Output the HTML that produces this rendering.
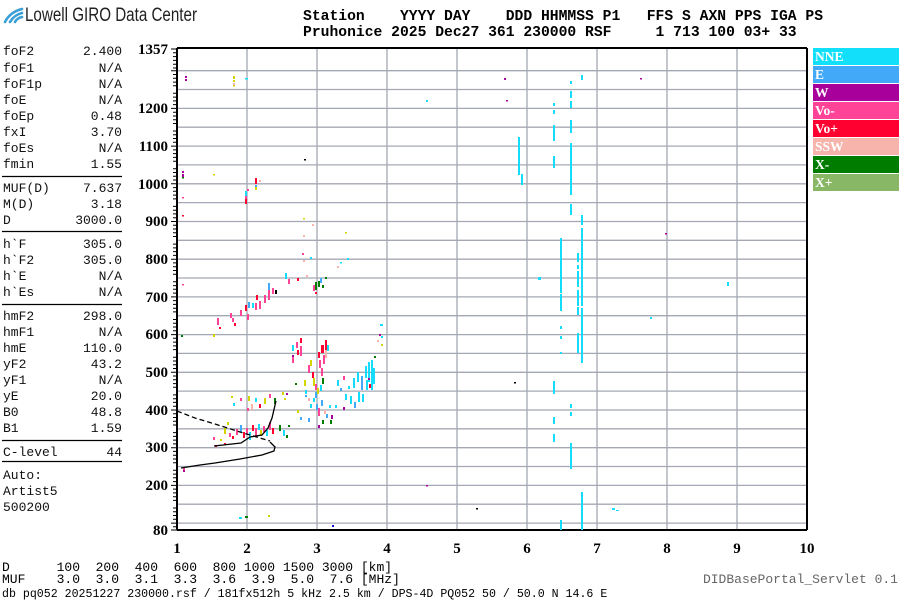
<!DOCTYPE html>
<html><head><meta charset="utf-8"><style>
body{margin:0;background:#fff;width:900px;height:600px;overflow:hidden}
svg{display:block}
.m{font-family:"Liberation Mono","DejaVu Sans Mono",monospace}
</style></head><body>
<svg width="900" height="600" viewBox="0 0 900 600" xmlns="http://www.w3.org/2000/svg">
<!-- logo -->
<g fill="none" stroke="#3a9fd6" stroke-width="2.6" stroke-linecap="round">
<path d="M5 22 Q10 12 22 9"/><path d="M10 22 Q14 15 22 13"/><path d="M15 22 Q17 18 22 17"/>
</g>
<text x="25" y="21" font-family="Liberation Sans Narrow,Liberation Sans,sans-serif" font-size="19" fill="#222" textLength="172" lengthAdjust="spacingAndGlyphs">Lowell GIRO Data Center</text>
<text class="m" x="303" y="20" font-size="14.7" font-weight="bold" xml:space="preserve">Station    YYYY DAY    DDD HHMMSS P1   FFS S AXN PPS IGA PS</text>
<text class="m" x="303" y="36" font-size="14.7" font-weight="bold" xml:space="preserve">Pruhonice 2025 Dec27 361 230000 RSF     1 713 100 03+ 33</text>
<!-- left panel -->
<g class="m" font-size="13" fill="#111">
<g text-anchor="start">
<text x="3" y="55">foF2</text><text x="3" y="72">foF1</text><text x="3" y="88">foF1p</text><text x="3" y="104">foE</text><text x="3" y="120">foEp</text><text x="3" y="136">fxI</text><text x="3" y="152">foEs</text><text x="3" y="168">fmin</text>
<text x="3" y="192">MUF(D)</text><text x="3" y="208">M(D)</text><text x="3" y="224">D</text>
<text x="3" y="248">h`F</text><text x="3" y="264">h`F2</text><text x="3" y="280">h`E</text><text x="3" y="296">h`Es</text>
<text x="3" y="320">hmF2</text><text x="3" y="336">hmF1</text><text x="3" y="352">hmE</text><text x="3" y="368">yF2</text><text x="3" y="384">yF1</text><text x="3" y="400">yE</text><text x="3" y="416">B0</text><text x="3" y="432">B1</text>
<text x="3" y="456">C-level</text>
<text x="3" y="479">Auto:</text><text x="3" y="495">Artist5</text><text x="3" y="511">500200</text>
</g>
<g text-anchor="end">
<text x="122" y="55">2.400</text><text x="122" y="72">N/A</text><text x="122" y="88">N/A</text><text x="122" y="104">N/A</text><text x="122" y="120">0.48</text><text x="122" y="136">3.70</text><text x="122" y="152">N/A</text><text x="122" y="168">1.55</text>
<text x="122" y="192">7.637</text><text x="122" y="208">3.18</text><text x="122" y="224">3000.0</text>
<text x="122" y="248">305.0</text><text x="122" y="264">305.0</text><text x="122" y="280">N/A</text><text x="122" y="296">N/A</text>
<text x="122" y="320">298.0</text><text x="122" y="336">N/A</text><text x="122" y="352">110.0</text><text x="122" y="368">43.2</text><text x="122" y="384">N/A</text><text x="122" y="400">20.0</text><text x="122" y="416">48.8</text><text x="122" y="432">1.59</text>
<text x="122" y="456">44</text>
</g>
</g>
<g stroke="#000" stroke-width="1.2">
<line x1="2" y1="176.5" x2="122" y2="176.5"/><line x1="2" y1="231.5" x2="122" y2="231.5"/><line x1="2" y1="304.5" x2="122" y2="304.5"/><line x1="2" y1="440.5" x2="122" y2="440.5"/><line x1="2" y1="461.5" x2="122" y2="461.5"/>
</g>
<!-- grid -->
<g stroke="#a4a8b4" stroke-width="1.3">
<line x1="177" y1="70.7" x2="807" y2="70.7"/><line x1="177" y1="89.5" x2="807" y2="89.5"/><line x1="177" y1="108.4" x2="807" y2="108.4"/><line x1="177" y1="127.2" x2="807" y2="127.2"/><line x1="177" y1="146.1" x2="807" y2="146.1"/><line x1="177" y1="164.9" x2="807" y2="164.9"/><line x1="177" y1="183.8" x2="807" y2="183.8"/><line x1="177" y1="202.6" x2="807" y2="202.6"/><line x1="177" y1="221.5" x2="807" y2="221.5"/><line x1="177" y1="240.3" x2="807" y2="240.3"/><line x1="177" y1="259.2" x2="807" y2="259.2"/><line x1="177" y1="278" x2="807" y2="278"/><line x1="177" y1="296.9" x2="807" y2="296.9"/><line x1="177" y1="315.7" x2="807" y2="315.7"/><line x1="177" y1="334.6" x2="807" y2="334.6"/><line x1="177" y1="353.4" x2="807" y2="353.4"/><line x1="177" y1="372.3" x2="807" y2="372.3"/><line x1="177" y1="391.1" x2="807" y2="391.1"/><line x1="177" y1="410" x2="807" y2="410"/><line x1="177" y1="428.8" x2="807" y2="428.8"/><line x1="177" y1="447.7" x2="807" y2="447.7"/><line x1="177" y1="466.5" x2="807" y2="466.5"/><line x1="177" y1="485.4" x2="807" y2="485.4"/><line x1="177" y1="504.2" x2="807" y2="504.2"/><line x1="177" y1="523.1" x2="807" y2="523.1"/>
<line x1="247" y1="48" x2="247" y2="530"/><line x1="317" y1="48" x2="317" y2="530"/><line x1="387" y1="48" x2="387" y2="530"/><line x1="457" y1="48" x2="457" y2="530"/><line x1="527" y1="48" x2="527" y2="530"/><line x1="597" y1="48" x2="597" y2="530"/><line x1="667" y1="48" x2="667" y2="530"/><line x1="737" y1="48" x2="737" y2="530"/>
</g>
<!-- frame -->
<g stroke="#000">
<line x1="177" y1="48" x2="807" y2="48" stroke-width="2"/>
<line x1="177" y1="530" x2="807" y2="530" stroke-width="2"/>
<line x1="177" y1="48" x2="177" y2="530" stroke-width="2"/>
<line x1="807" y1="48" x2="807" y2="530" stroke-width="2"/>
</g>
<!-- left ticks -->
<g stroke="#000" stroke-width="1">
<path d="M171 49h6M171 70.7h6M171 108.4h6M171 146.1h6M171 183.8h6M171 221.5h6M171 259.2h6M171 296.9h6M171 334.6h6M171 372.3h6M171 410h6M171 447.7h6M171 485.4h6M171 523.1h6M171 530h6"/>
<path d="M173 52.8h4M173 56.6h4M173 60.4h4M173 64.2h4M173 68h4M173 74.5h4M173 78.3h4M173 82.1h4M173 85.8h4M173 93.3h4M173 97.1h4M173 100.9h4M173 104.6h4M173 112.2h4M173 116h4M173 119.7h4M173 123.5h4M173 131h4M173 134.8h4M173 138.5h4M173 142.3h4M173 149.9h4M173 153.6h4M173 157.4h4M173 161.2h4M173 168.7h4M173 172.5h4M173 176.2h4M173 180h4M173 187.6h4M173 191.3h4M173 195.1h4M173 198.9h4M173 206.4h4M173 210.2h4M173 213.9h4M173 217.7h4M173 225.2h4M173 229h4M173 232.8h4M173 236.5h4M173 244.1h4M173 247.9h4M173 251.6h4M173 255.4h4M173 262.9h4M173 266.7h4M173 270.5h4M173 274.2h4M173 281.8h4M173 285.6h4M173 289.3h4M173 293.1h4M173 300.6h4M173 304.4h4M173 308.2h4M173 311.9h4M173 319.5h4M173 323.3h4M173 327h4M173 330.8h4M173 338.3h4M173 342.1h4M173 345.9h4M173 349.6h4M173 357.2h4M173 361h4M173 364.7h4M173 368.5h4M173 376h4M173 379.8h4M173 383.6h4M173 387.3h4M173 394.9h4M173 398.7h4M173 402.4h4M173 406.2h4M173 413.7h4M173 417.5h4M173 421.3h4M173 425h4M173 432.6h4M173 436.4h4M173 440.1h4M173 443.9h4M173 451.4h4M173 455.2h4M173 459h4M173 462.7h4M173 470.3h4M173 474.1h4M173 477.8h4M173 481.6h4M173 489.1h4M173 492.9h4M173 496.7h4M173 500.4h4M173 508h4M173 511.8h4M173 515.5h4M173 519.3h4M173 526.8h4"/>
</g>
<g font-family="Liberation Serif,serif" font-weight="bold" font-size="15" text-anchor="end" fill="#000">
<text x="168" y="54">1357</text><text x="168" y="113">1200</text><text x="168" y="151">1100</text><text x="168" y="189">1000</text><text x="168" y="226">900</text><text x="168" y="264">800</text><text x="168" y="302">700</text><text x="168" y="339">600</text><text x="168" y="377">500</text><text x="168" y="415">400</text><text x="168" y="452">300</text><text x="168" y="490">200</text><text x="168" y="535">80</text>
</g>
<g font-family="Liberation Serif,serif" font-weight="bold" font-size="15" text-anchor="middle" fill="#000">
<text x="177" y="553">1</text><text x="247" y="553">2</text><text x="317" y="553">3</text><text x="387" y="553">4</text><text x="457" y="553">5</text><text x="527" y="553">6</text><text x="597" y="553">7</text><text x="667" y="553">8</text><text x="737" y="553">9</text><text x="807" y="553">10</text>
</g>
<!-- bottom text -->
<text class="m" x="2" y="571" font-size="13" xml:space="preserve">D      100  200  400  600  800 1000 1500 3000 [km]</text>
<text class="m" x="2" y="583" font-size="13" xml:space="preserve">MUF    3.0  3.0  3.1  3.3  3.6  3.9  5.0  7.6 [MHz]</text>
<text class="m" x="2" y="597" font-size="11.6" xml:space="preserve">db pq052 20251227 230000.rsf / 181fx512h 5 kHz 2.5 km / DPS-4D PQ052 50 / 50.0 N 14.6 E</text>
<text class="m" x="898" y="583" font-size="13" fill="#666" text-anchor="end">DIDBasePortal_Servlet 0.1</text>
<!-- legend -->
<g font-family="Liberation Serif,serif" font-weight="bold" font-size="13.5" fill="#fff">
<rect x="813" y="48" width="86" height="17" fill="#12e0fb"/><text x="815" y="61">NNE</text>
<rect x="813" y="66" width="86" height="17" fill="#42a8f8"/><text x="815" y="79">E</text>
<rect x="813" y="84" width="86" height="17" fill="#a8009a"/><text x="815" y="97">W</text>
<rect x="813" y="102" width="86" height="17" fill="#ff4498"/><text x="815" y="115">Vo-</text>
<rect x="813" y="120" width="86" height="17" fill="#ff0030"/><text x="815" y="133">Vo+</text>
<rect x="813" y="138" width="86" height="17" fill="#f6b4ac"/><text x="815" y="151">SSW</text>
<rect x="813" y="156" width="86" height="17" fill="#007c00"/><text x="815" y="169">X-</text>
<rect x="813" y="174" width="86" height="17" fill="#88b866"/><text x="815" y="187">X+</text>
</g>
<!-- cyan verticals -->
<g fill="#16dcfb">
<rect x="518" y="137" width="2" height="38"/><rect x="521" y="174" width="2" height="11"/>
<rect x="553" y="103" width="2" height="3"/><rect x="553" y="110" width="2" height="4"/><rect x="553" y="125" width="2" height="16"/><rect x="553" y="156" width="2" height="12"/>
<rect x="553" y="381" width="2" height="13"/><rect x="553" y="417" width="2" height="7"/><rect x="553" y="434" width="2" height="8"/>
<rect x="570" y="81" width="2" height="3"/><rect x="570" y="91" width="2" height="7"/><rect x="570" y="101" width="2" height="7"/><rect x="570" y="120" width="2" height="13"/><rect x="570" y="143" width="2" height="52"/><rect x="570" y="204" width="2" height="11"/>
<rect x="570" y="404" width="2" height="4"/><rect x="570" y="412" width="2" height="4"/><rect x="570" y="443" width="2" height="26"/>
<rect x="560" y="238" width="2" height="55"/><rect x="560" y="294" width="2" height="17"/><rect x="560" y="326" width="2" height="3"/><rect x="560" y="336" width="2" height="3"/><rect x="560" y="352" width="2" height="2"/><rect x="560" y="520" width="2" height="10"/>
<rect x="577" y="253" width="2" height="9"/><rect x="577" y="265" width="2" height="4"/><rect x="577" y="271" width="2" height="16"/><rect x="577" y="290" width="2" height="16"/><rect x="577" y="307" width="2" height="8"/><rect x="577" y="333" width="2" height="20"/>
<rect x="581" y="75" width="2" height="5"/><rect x="581" y="215" width="2" height="10"/><rect x="581" y="228" width="2" height="8"/><rect x="581" y="236" width="2" height="70"/><rect x="581" y="308" width="2" height="55"/><rect x="581" y="492" width="2" height="38"/>
<rect x="612" y="508" width="3" height="2"/><rect x="616" y="510" width="3" height="1"/><rect x="727" y="282" width="2" height="4"/><rect x="538" y="277" width="3" height="3"/>
<rect x="245" y="78" width="3" height="1.5"/><rect x="426" y="100" width="2" height="2"/><rect x="650" y="317" width="2" height="2"/>
</g>
<!-- other scattered -->
<g>
<rect x="185" y="76" width="2" height="2" fill="#a8009a"/><rect x="185" y="79" width="2" height="2" fill="#a8009a"/>
<rect x="233" y="76" width="2" height="3" fill="#d4d400"/><rect x="233" y="80" width="2" height="2" fill="#d4d400"/><rect x="233" y="83" width="2" height="2" fill="#f6b4ac"/><rect x="233" y="85" width="2" height="1.5" fill="#d4d400"/>
<rect x="182" y="171" width="2" height="2" fill="#a8009a"/><rect x="182" y="174" width="2" height="3" fill="#a8009a"/><rect x="182" y="177" width="2" height="1.5" fill="#007c00"/>
<rect x="213" y="174" width="2" height="1.5" fill="#d4d400"/><rect x="182" y="197" width="2" height="1.5" fill="#ff4498"/><rect x="182" y="215" width="2" height="1.5" fill="#ff0030"/>
<rect x="245" y="191" width="2" height="5" fill="#16dcfb"/><rect x="245" y="196" width="2" height="5" fill="#ff4498"/><rect x="245" y="199" width="2" height="5" fill="#ff0030"/><rect x="247" y="189" width="2" height="2" fill="#ff4498"/>
<rect x="255" y="178" width="2" height="6" fill="#ff0030"/><rect x="255" y="185" width="2" height="3" fill="#42a8f8"/><rect x="255" y="187" width="2" height="3" fill="#d4d400"/><rect x="259" y="180" width="2" height="2" fill="#f6b4ac"/>
<rect x="304" y="159" width="2" height="1.5" fill="#000"/><rect x="303" y="218" width="2" height="1.5" fill="#d4d400"/><rect x="312" y="224" width="2" height="2" fill="#f6b4ac"/>
<rect x="345" y="232" width="2" height="1.5" fill="#d4d400"/><rect x="182" y="284" width="2" height="1.5" fill="#ff4498"/>
<!-- second hop -->
<rect x="230" y="313" width="2" height="5" fill="#ff4498"/><rect x="232" y="318" width="2" height="4" fill="#ff4498"/><rect x="234" y="323" width="2" height="3" fill="#ff0030"/><rect x="240" y="310" width="2" height="6" fill="#ff4498"/><rect x="245" y="305" width="2" height="6" fill="#ff0030"/><rect x="247" y="314" width="2" height="6" fill="#ff4498"/><rect x="248" y="302" width="2" height="6" fill="#42a8f8"/><rect x="252" y="303" width="2" height="5" fill="#16dcfb"/><rect x="255" y="303" width="2" height="7" fill="#ff4498"/><rect x="256" y="295" width="2" height="5" fill="#ff0030"/><rect x="259" y="301" width="2" height="8" fill="#ff4498"/><rect x="264" y="295" width="2" height="8" fill="#ff4498"/><rect x="268" y="290" width="2" height="10" fill="#ff4498"/><rect x="268" y="283" width="2" height="7" fill="#42a8f8"/><rect x="272" y="288" width="2" height="6" fill="#ff4498"/><rect x="275" y="290" width="2" height="4" fill="#000"/><rect x="217" y="318" width="2" height="7" fill="#ff4498"/><rect x="219" y="327" width="2" height="2" fill="#ff0030"/><rect x="213" y="334" width="2" height="2" fill="#d4d400"/>
<rect x="285" y="273" width="2" height="6" fill="#16dcfb"/><rect x="288" y="279" width="2" height="5" fill="#ff4498"/><rect x="297" y="278" width="2" height="3" fill="#ff0030"/><rect x="313" y="285" width="2" height="6" fill="#ff4498"/><rect x="315" y="282" width="2" height="8" fill="#007c00"/><rect x="318" y="281" width="2" height="6" fill="#007c00"/><rect x="320" y="278" width="2" height="5" fill="#42a8f8"/><rect x="322" y="285" width="2" height="3" fill="#007c00"/><rect x="325" y="277" width="2" height="2" fill="#007c00"/><rect x="315" y="292" width="2" height="2" fill="#ff0030"/>
<rect x="302" y="253" width="2" height="2" fill="#ff4498"/><rect x="310" y="257" width="2" height="2" fill="#16dcfb"/><rect x="306" y="275" width="2" height="2" fill="#f6b4ac"/><rect x="340" y="262" width="2" height="1.5" fill="#16dcfb"/><rect x="347" y="258" width="2" height="2" fill="#16dcfb"/><rect x="337" y="266" width="2" height="2" fill="#f6b4ac"/><rect x="303" y="260" width="2" height="2" fill="#f6b4ac"/><rect x="303" y="235" width="2" height="2" fill="#f6b4ac"/>
<!-- F trace -->
<rect x="292" y="345" width="2" height="6" fill="#16dcfb"/><rect x="292" y="355" width="2" height="2" fill="#a8009a"/><rect x="292" y="357" width="2" height="6" fill="#ff4498"/><rect x="296" y="342" width="2" height="6" fill="#ff4498"/><rect x="297" y="350" width="2" height="5" fill="#ff0030"/><rect x="300" y="338" width="2" height="5" fill="#ff0030"/><rect x="300" y="346" width="2" height="10" fill="#ff4498"/>
<rect x="308" y="365" width="2" height="8" fill="#ff4498"/><rect x="310" y="360" width="2" height="6" fill="#d4d400"/><rect x="312" y="372" width="2" height="6" fill="#ff0030"/><rect x="313" y="378" width="2" height="8" fill="#d4d400"/><rect x="315" y="384" width="2" height="6" fill="#ff4498"/><rect x="315" y="392" width="2" height="6" fill="#42a8f8"/><rect x="317" y="388" width="2" height="6" fill="#d4d400"/><rect x="318" y="352" width="2" height="6" fill="#ff0030"/><rect x="319" y="360" width="2" height="8" fill="#ff4498"/><rect x="321" y="345" width="3" height="8" fill="#ff0030"/><rect x="321" y="368" width="2" height="8" fill="#ff4498"/><rect x="323" y="355" width="2" height="9" fill="#ff4498"/><rect x="325" y="340" width="2" height="10" fill="#ff0030"/><rect x="325" y="350" width="2" height="8" fill="#f6b4ac"/><rect x="327" y="345" width="2" height="6" fill="#16dcfb"/><rect x="322" y="378" width="2" height="6" fill="#007c00"/><rect x="320" y="385" width="2" height="6" fill="#16dcfb"/>
<rect x="304" y="380" width="2" height="6" fill="#d4d400"/><rect x="305" y="390" width="2" height="4" fill="#16dcfb"/><rect x="305" y="395" width="2" height="2" fill="#42a8f8"/><rect x="308" y="398" width="2" height="3" fill="#f6b4ac"/><rect x="310" y="404" width="2" height="4" fill="#16dcfb"/><rect x="313" y="398" width="2" height="4" fill="#16dcfb"/><rect x="316" y="404" width="2" height="6" fill="#42a8f8"/><rect x="318" y="408" width="2" height="8" fill="#ff4498"/><rect x="321" y="400" width="2" height="6" fill="#42a8f8"/><rect x="324" y="410" width="2" height="4" fill="#f6b4ac"/><rect x="326" y="414" width="2" height="4" fill="#42a8f8"/><rect x="330" y="420" width="2" height="4" fill="#007c00"/><rect x="331" y="415" width="2" height="4" fill="#a8009a"/><rect x="297" y="410" width="2" height="3" fill="#d4d400"/><rect x="288" y="425" width="2" height="2" fill="#007c00"/><rect x="300" y="417" width="2" height="3" fill="#42a8f8"/><rect x="308" y="418" width="2" height="4" fill="#42a8f8"/>
<rect x="286" y="393" width="2" height="2" fill="#a8009a"/><rect x="295" y="383" width="2" height="2" fill="#007c00"/><rect x="284" y="398" width="2" height="2" fill="#d4d400"/><rect x="329" y="405" width="2" height="3" fill="#16dcfb"/><rect x="318" y="425" width="2" height="3" fill="#a8009a"/><rect x="322" y="420" width="2" height="4" fill="#007c00"/>
<!-- low F / X cluster -->
<rect x="236" y="429" width="2" height="6" fill="#ff4498"/><rect x="240" y="425" width="2" height="7" fill="#42a8f8"/><rect x="243" y="432" width="2" height="6" fill="#ff0030"/><rect x="246" y="428" width="2" height="6" fill="#ff4498"/><rect x="249" y="432" width="2" height="8" fill="#16dcfb"/><rect x="252" y="425" width="2" height="6" fill="#ff0030"/><rect x="255" y="428" width="2" height="8" fill="#ff4498"/><rect x="258" y="424" width="2" height="6" fill="#16dcfb"/><rect x="260" y="430" width="2" height="6" fill="#d4d400"/><rect x="263" y="426" width="2" height="6" fill="#ff4498"/><rect x="266" y="430" width="2" height="6" fill="#16dcfb"/><rect x="269" y="422" width="2" height="8" fill="#ff4498"/><rect x="272" y="428" width="2" height="6" fill="#ff0030"/><rect x="279" y="425" width="2" height="6" fill="#007c00"/><rect x="283" y="430" width="2" height="6" fill="#16dcfb"/><rect x="286" y="435" width="2" height="3" fill="#007c00"/>
<rect x="224" y="428" width="2" height="6" fill="#d4d400"/><rect x="229" y="433" width="2" height="4" fill="#ff4498"/><rect x="232" y="436" width="2" height="3" fill="#ff0030"/><rect x="213" y="437" width="2" height="3" fill="#ff4498"/><rect x="227" y="422" width="2" height="3" fill="#d4d400"/><rect x="220" y="439" width="2" height="2" fill="#d4d400"/><rect x="224" y="443" width="2" height="2" fill="#ff0030"/>
<rect x="231" y="396" width="2" height="2" fill="#d4d400"/><rect x="233" y="403" width="2" height="3" fill="#16dcfb"/><rect x="240" y="398" width="2" height="3" fill="#ff4498"/><rect x="247" y="408" width="2" height="3" fill="#ff4498"/><rect x="248" y="396" width="2" height="5" fill="#d4d400"/><rect x="251" y="404" width="2" height="6" fill="#f6b4ac"/><rect x="255" y="398" width="2" height="4" fill="#16dcfb"/><rect x="259" y="404" width="2" height="4" fill="#ff0030"/><rect x="264" y="398" width="2" height="6" fill="#d4d400"/><rect x="269" y="394" width="2" height="4" fill="#ff4498"/><rect x="274" y="398" width="2" height="6" fill="#007c00"/><rect x="282" y="392" width="2" height="3" fill="#d4d400"/>
<rect x="183" y="468" width="2" height="3" fill="#ff4498"/><rect x="183" y="470" width="2" height="2" fill="#a8009a"/><rect x="215" y="445" width="2" height="2" fill="#ff0030"/>
<!-- X trace -->
<rect x="337" y="380" width="2" height="6" fill="#16dcfb"/><rect x="340" y="388" width="2" height="3" fill="#42a8f8"/><rect x="343" y="376" width="2" height="4" fill="#ff4498"/><rect x="345" y="394" width="2" height="6" fill="#16dcfb"/><rect x="348" y="386" width="2" height="3" fill="#16dcfb"/><rect x="350" y="396" width="2" height="8" fill="#16dcfb"/><rect x="353" y="378" width="2" height="10" fill="#16dcfb"/><rect x="354" y="402" width="2" height="6" fill="#42a8f8"/><rect x="357" y="372" width="2" height="10" fill="#16dcfb"/><rect x="358" y="392" width="2" height="10" fill="#16dcfb"/><rect x="361" y="376" width="2" height="14" fill="#42a8f8"/><rect x="362" y="394" width="2" height="8" fill="#16dcfb"/><rect x="365" y="366" width="2" height="12" fill="#16dcfb"/><rect x="366" y="380" width="2" height="10" fill="#16dcfb"/><rect x="368" y="362" width="2" height="20" fill="#16dcfb"/><rect x="369" y="384" width="2" height="4" fill="#ff0030"/><rect x="371" y="360" width="2" height="30" fill="#16dcfb"/><rect x="373" y="368" width="2" height="16" fill="#16dcfb"/><rect x="368" y="378" width="2" height="2" fill="#a8009a"/><rect x="374" y="356" width="2" height="2" fill="#007c00"/><rect x="380" y="324" width="3" height="2" fill="#16dcfb"/><rect x="381" y="344" width="2" height="2" fill="#d4d400"/><rect x="379" y="334" width="2" height="2" fill="#a8009a"/><rect x="381" y="336" width="2" height="2" fill="#16dcfb"/><rect x="377" y="340" width="2" height="2" fill="#f6b4ac"/><rect x="343" y="407" width="2" height="3" fill="#a8009a"/><rect x="335" y="405" width="2" height="3" fill="#16dcfb"/>
<rect x="181" y="335" width="2" height="2" fill="#007c00"/><rect x="213" y="335" width="2" height="2" fill="#d4d400"/>
<rect x="426" y="485" width="2" height="1.5" fill="#a8009a"/><rect x="332" y="525" width="2" height="2" fill="#1010c8"/><rect x="245" y="516" width="3" height="2" fill="#007c00"/><rect x="239" y="517" width="3" height="2" fill="#16dcfb"/><rect x="268" y="515" width="2" height="2" fill="#d4d400"/><rect x="504" y="78" width="2" height="2" fill="#a8009a"/><rect x="506" y="100" width="2" height="1.5" fill="#a8009a"/><rect x="514" y="382" width="2" height="1.5" fill="#000"/><rect x="476" y="508" width="2" height="1.5" fill="#000"/><rect x="665" y="233" width="2" height="1.5" fill="#a8009a"/><rect x="640" y="78" width="2" height="1.5" fill="#a8009a"/>
</g>
<!-- profile curves -->
<g fill="none" stroke="#000" stroke-width="1.3">
<path d="M181 468 L200 465 L215 463 L240 459 L262 455 L274 451 L275 447 L270 442"/>
<path d="M214 446 L232 444 L241 443 L250 437 L262 435 L268 428 L272 418 L276 401"/>
<path d="M177 411 L195 418 L215 424 L240 432 L260 438 L270 441" stroke-dasharray="5,3"/>
</g>
</svg>
</body></html>
